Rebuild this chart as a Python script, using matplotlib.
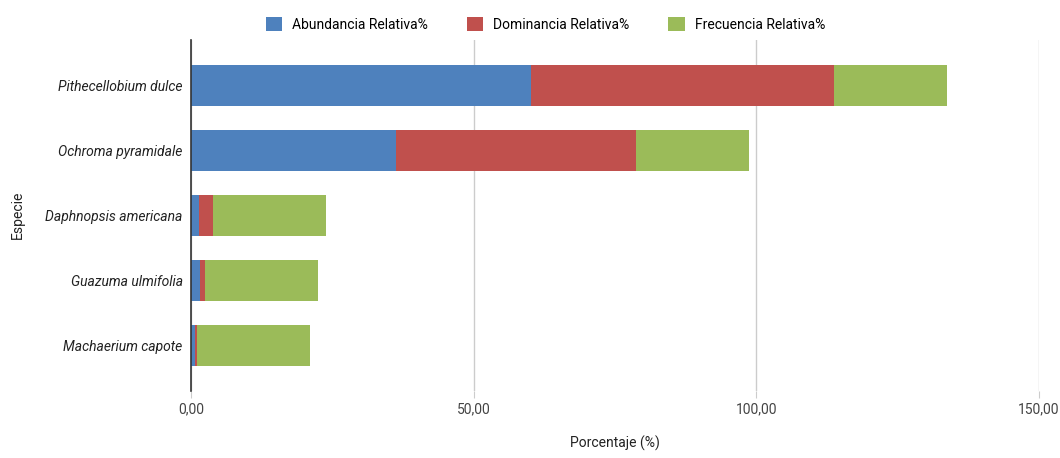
import matplotlib.pyplot as plt
import numpy as np

plt.rcParams['font.family'] = ['Roboto', 'DejaVu Sans']

# Datos
especies = ['Pithecellobium dulce', 'Ochroma pyramidale', 'Daphnopsis americana',
            'Guazuma ulmifolia', 'Machaerium capote']
abundancia = [60.1, 36.3, 1.4, 1.6, 0.7]
dominancia = [53.6, 42.4, 2.5, 0.9, 0.4]
frecuencia = [20.0, 20.0, 20.0, 20.0, 20.0]

series = [('Abundancia Relativa%', abundancia, '#4E81BD'),
          ('Dominancia Relativa%', dominancia, '#C0504D'),
          ('Frecuencia Relativa%', frecuencia, '#9BBB59')]

fig = plt.figure(figsize=(10.6, 4.58), dpi=100)
ax = fig.add_axes([0.1802, 0.1463, 0.7998, 0.7664])

y = np.arange(len(especies))
izq = np.zeros(len(especies))
for nombre, valores, color in series:
    ax.barh(y, valores, left=izq, height=0.64, color=color, label=nombre, zorder=3)
    izq += np.array(valores)

ax.set_xlim(0, 150)
ax.set_ylim(len(especies) - 0.3, -0.7)
ax.set_xticks([0, 50, 100, 150])
ax.set_xticklabels(['0,00', '50,00', '100,00', '150,00'])
ax.set_yticks(y)
ax.set_yticklabels(especies, fontstyle='italic')

ax.grid(axis='x', color='#cccccc', linewidth=1, zorder=0)
for s in ['top', 'right', 'bottom']:
    ax.spines[s].set_visible(False)
ax.spines['left'].set_color('#333333')
ax.spines['left'].set_linewidth(1.2)
ax.spines['left'].set_zorder(4)
ax.tick_params(axis='y', length=0, pad=6, labelsize=10, labelcolor='#222222')
ax.tick_params(axis='x', length=5, color='#cccccc', pad=3, labelsize=10, labelcolor='#444444')

ax.set_xlabel('Porcentaje (%)', fontsize=10, color='#222222', labelpad=14)
fig.text(0.017, 0.53, 'Especie', rotation=90, fontsize=10, color='#222222', va='center', ha='center')

ax.legend(loc='lower center', bbox_to_anchor=(0.418, 1.0), ncol=3, frameon=False,
          fontsize=10, handlelength=1.2, handleheight=1.2, columnspacing=2.8, handletextpad=0.7,
          borderaxespad=0.2)

plt.savefig('out.png', dpi=100)
